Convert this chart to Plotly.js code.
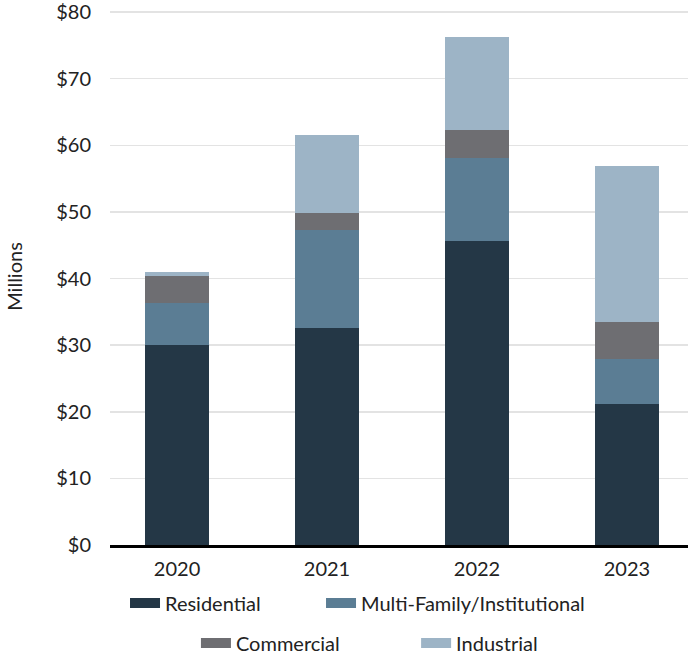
<!DOCTYPE html>
<html><head><meta charset="utf-8">
<script src="https://cdn.plot.ly/plotly-3.0.1.min.js"></script>
<style>html,body{margin:0;padding:0;background:#fff}#chart{width:688px;height:655px}</style>
</head><body><div id="chart"></div>
<script>
const years = ['2020', '2021', '2022', '2023'];
const residential = [30.0, 32.6, 45.7, 21.1];
const multiFamily = [6.3, 14.7, 12.4, 6.8];
const commercial = [4.1, 2.5, 4.2, 5.6];
const industrial = [0.6, 11.7, 13.9, 23.4];
const seriesNames = ['Residential', 'Multi-Family/Institutional', 'Commercial', 'Industrial'];
const seriesColors = ['#243746', '#5b7d94', '#6e6e72', '#9db4c6'];
const tickVals = [0, 10, 20, 30, 40, 50, 60, 70, 80];
const tickText = ['$0', '$10', '$20', '$30', '$40', '$50', '$60', '$70', '$80'];

const seriesData = [residential, multiFamily, commercial, industrial];
const legendIds = ['legend', 'legend2', 'legend3', 'legend4'];
const traces = [];
seriesData.forEach((vals, i) => {
  traces.push({type: 'bar', x: years, y: vals, name: seriesNames[i],
    marker: {color: seriesColors[i], line: {width: 0}}, width: 0.427,
    showlegend: false, hoverinfo: 'x+y+name'});
});
seriesData.forEach((vals, i) => {
  traces.push({type: 'scatter', mode: 'lines', x: [null], y: [null], name: seriesNames[i],
    line: {color: seriesColors[i], width: 12}, legend: legendIds[i], showlegend: true, hoverinfo: 'skip'});
});

const font = {family: 'Lato, "Open Sans", sans-serif', size: 20, color: '#222'};
function lg(x, y) {
  return {orientation: 'h', xref: 'container', yref: 'container', x: x, xanchor: 'left',
    y: y, yanchor: 'middle', font: font, bgcolor: 'rgba(0,0,0,0)'};
}
const layout = {
  width: 688, height: 655,
  margin: {l: 110, r: 0, t: 8, b: 110},
  barmode: 'stack',
  paper_bgcolor: '#fff', plot_bgcolor: '#fff',
  font: font,
  xaxis: {type: 'category', range: [-0.447, 3.407], showgrid: false,
    showline: true, linecolor: '#000', linewidth: 3, ticks: '', tickfont: font,
    ticklabelstandoff: 4, zeroline: false},
  yaxis: {range: [0, 80.6], tickvals: tickVals, ticktext: tickText, showgrid: true,
    gridcolor: '#e3e3e3', gridwidth: 1.5, zeroline: false, showline: false, ticks: '',
    tickfont: font, ticklabelstandoff: 18, ticklabeloverflow: 'allow',
    title: {text: 'Millions', font: font, standoff: 28}},
  legend: lg(0.1817, 0.0794),
  legend2: lg(0.4666, 0.0794),
  legend3: lg(0.2848, 0.0183),
  legend4: lg(0.6048, 0.0183),
  showlegend: true
};
Plotly.newPlot('chart', traces, layout, {displayModeBar: false, staticPlot: true});
</script></body></html>
